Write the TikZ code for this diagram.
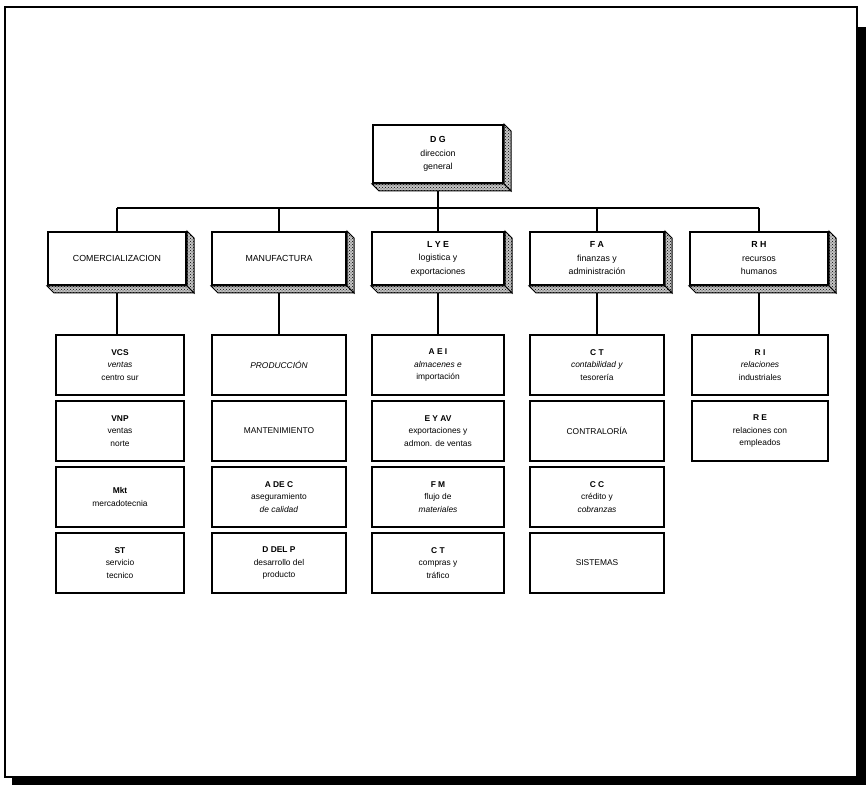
\documentclass[tikz,border=0pt]{standalone}
\usepackage{fontspec}
\setmainfont{Liberation Sans}
\usetikzlibrary{patterns}

% extruded side and bottom faces of a raised box
\newcommand\raisedface[1]{%
  \filldraw[face] (#1.north east) -- ([shift={(7,7)}]#1.north east)
    -- ([shift={(7,7)}]#1.south east) -- (#1.south east) -- cycle;
  \filldraw[face] (#1.south west) -- ([shift={(7,7)}]#1.south west)
    -- ([shift={(7,7)}]#1.south east) -- (#1.south east) -- cycle;
}

\begin{document}
\begin{tikzpicture}[x=1pt,y=-1pt,
  unit/.style={draw, line width=2pt, rectangle, fill=white, align=center,
    inner sep=1pt, font=\fontsize{8.8}{13.5}\selectfont},
  head/.style={unit, minimum width=#1, minimum height=53pt},
  sub/.style={unit, minimum width=#1, minimum height=60pt,
    font=\fontsize{8.4}{12.6}\selectfont},
  face/.style={line width=1pt, preaction={fill=gray!45},
    pattern=crosshatch dots, pattern color=black},
  link/.style={line width=2pt}
]
\useasboundingbox (0,0) rectangle (868,786);

% page frame with its drop shadow
\fill (858,27) rectangle (866,785);
\fill (12,778) rectangle (866,785);
\draw[line width=1.5pt] (5,7) rectangle (857,777);

% top of the chart
\node[unit, minimum width=130pt, minimum height=58pt] (dg) at (438,154)
  {\textbf{D G}\\direccion\\general};

% departments
\node[head=138pt] (com) at (117,258.5) {COMERCIALIZACION};
\node[head=134pt] (man) at (279,258.5) {MANUFACTURA};
\node[head=132pt] (lye) at (438,258.5) {\textbf{L Y E}\\logistica y\\exportaciones};
\node[head=134pt] (fa)  at (597,258.5) {\textbf{F A}\\finanzas y\\administración};
\node[head=138pt] (rh)  at (759,258.5) {\textbf{R H}\\recursos\\humanos};

% areas under COMERCIALIZACION
\node[sub=128pt] (vcs) at (120,365) {\textbf{VCS}\\\textit{ventas}\\centro sur};
\node[sub=128pt] (vnp) at (120,431) {\textbf{VNP}\\ventas\\norte};
\node[sub=128pt] (mkt) at (120,497) {\textbf{Mkt}\\mercadotecnia};
\node[sub=128pt] (st)  at (120,563) {\textbf{ST}\\servicio\\tecnico};

% areas under MANUFACTURA
\node[sub=134pt] (pro) at (279,365) {\textit{PRODUCCIÓN}};
\node[sub=134pt] (mto) at (279,431) {MANTENIMIENTO};
\node[sub=134pt] (adc) at (279,497) {\textbf{A DE C}\\aseguramiento\\\textit{de calidad}};
\node[sub=134pt] (ddp) at (279,563) {\textbf{D DEL P}\\desarrollo del\\producto};

% areas under L Y E
\node[sub=132pt] (aei) at (438,365) {\textbf{A E I}\\\textit{almacenes e}\\importación};
\node[sub=132pt] (eav) at (438,431) {\textbf{E Y AV}\\exportaciones y\\admon. de ventas};
\node[sub=132pt] (fm)  at (438,497) {\textbf{F M}\\flujo de\\\textit{materiales}};
\node[sub=132pt] (ctc) at (438,563) {\textbf{C T}\\compras y\\tráfico};

% areas under F A
\node[sub=134pt] (ctt) at (597,365) {\textbf{C T}\\\textit{contabilidad y}\\tesorería};
\node[sub=134pt] (ctr) at (597,431) {CONTRALORÍA};
\node[sub=134pt] (cc)  at (597,497) {\textbf{C C}\\crédito y\\\textit{cobranzas}};
\node[sub=134pt] (sis) at (597,563) {SISTEMAS};

% areas under R H
\node[sub=136pt] (ri) at (760,365) {\textbf{R I}\\\textit{relaciones}\\industriales};
\node[sub=136pt] (re) at (760,431) {\textbf{R E}\\relaciones con\\empleados};

% connectors
\coordinate (bus) at (438,208);
\draw[link] (dg.south) -- (dg.south |- bus);
\draw[link] (com.north |- bus) -- (rh.north |- bus);
\foreach \d in {com,man,lye,fa,rh}
  \draw[link] (\d.north) -- (\d.north |- bus);
\draw[link] (com.south) -- (com.south |- vcs.north);
\draw[link] (man.south) -- (man.south |- pro.north);
\draw[link] (lye.south) -- (lye.south |- aei.north);
\draw[link] (fa.south)  -- (fa.south |- ctt.north);
\draw[link] (rh.south)  -- (rh.south |- ri.north);

% raised faces of the upper boxes
\foreach \d in {dg,com,man,lye,fa,rh}
  {\raisedface{\d}}
\end{tikzpicture}
\end{document}
